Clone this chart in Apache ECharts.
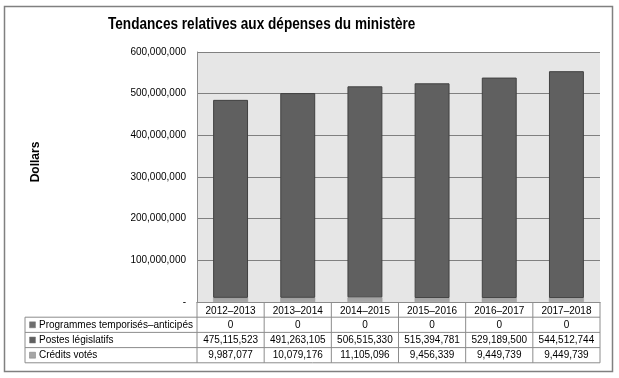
<!DOCTYPE html>
<html>
<head>
<meta charset="utf-8">
<script src="https://cdn.jsdelivr.net/npm/echarts@6/dist/echarts.min.js"></script>
<style>
  html, body { margin: 0; padding: 0; background: #fff; }
  #chart { width: 619px; height: 378px; }
</style>
</head>
<body>
<div id="chart"></div>
<script>
// Data
const years = ['2012–2013', '2013–2014', '2014–2015', '2015–2016', '2016–2017', '2017–2018'];
const programmes = [0, 0, 0, 0, 0, 0];
const postes = [475115523, 491263105, 506515330, 515394781, 529189500, 544512744];
const credits = [9987077, 10079176, 11105096, 9456339, 9449739, 9449739];

const FONT = '"Liberation Sans", Arial, sans-serif';
const DARK = '#606060';
const LIGHT = '#a6a6a6';
const LINE = '#8c8c8c';
const TITLE = 'Tendances relatives aux dépenses du ministère';

// table rows, top to bottom
const rows = [
  { name: 'Programmes temporisés–anticipés', data: programmes, color: '#6e6e6e' },
  { name: 'Postes législatifs', data: postes, color: DARK },
  { name: 'Crédits votés', data: credits, color: LIGHT }
];

const fmt = v => v === 0 ? '0' : v.toLocaleString('en-US');

const chart = echarts.init(document.getElementById('chart'), null, { renderer: 'canvas' });

const option = {
  animation: false,
  textStyle: { fontFamily: FONT },
  grid: {
    left: 197, right: 19, top: 52, bottom: 76,
    show: true, backgroundColor: '#e6e6e6', borderWidth: 0
  },
  xAxis: {
    type: 'category',
    data: years,
    axisTick: { show: false },
    axisLine: { show: true, lineStyle: { color: LINE, width: 1 } },
    axisLabel: { color: '#000', fontSize: 10, margin: 4, fontFamily: FONT }
  },
  yAxis: {
    type: 'value',
    min: 0, max: 600000000, interval: 100000000,
    axisLine: { show: true, lineStyle: { color: LINE, width: 1 } },
    axisTick: { show: false },
    splitLine: { lineStyle: { color: '#808080', width: 1 } },
    axisLabel: {
      color: '#000', fontSize: 10, margin: 11, fontFamily: FONT,
      formatter: v => v === 0 ? '-' : fmt(v)
    }
  },
  series: [
    {
      name: 'Crédits votés', type: 'bar', stack: 'total', data: credits,
      barWidth: '52%',
      itemStyle: { color: LIGHT, borderColor: '#999999', borderWidth: 0.5 }
    },
    {
      name: 'Postes législatifs', type: 'bar', stack: 'total', data: postes,
      itemStyle: { color: DARK, borderColor: '#404040', borderWidth: 1 }
    },
    {
      name: 'Programmes temporisés–anticipés', type: 'bar', stack: 'total', data: programmes,
      itemStyle: { color: '#6e6e6e' }
    }
  ]
};

chart.setOption(option);

// Data table under the plot, laid out from the category axis
function buildTable() {
  const x0 = chart.convertToPixel({ xAxisIndex: 0 }, 0);
  const x1 = chart.convertToPixel({ xAxisIndex: 0 }, 1);
  const band = x1 - x0;
  const plotL = x0 - band / 2;
  const plotR = plotL + band * years.length;
  const top = chart.convertToPixel({ yAxisIndex: 0 }, 0);
  const rowH = 15.2;
  const tableL = 25;
  const els = [];
  const line = (xa, ya, xb, yb) => els.push({
    type: 'line', silent: true,
    shape: { x1: xa, y1: ya, x2: xb, y2: yb },
    style: { stroke: LINE, lineWidth: 1 }
  });

  // title, slightly condensed like the original
  els.push({
    type: 'text', silent: true, x: 108, y: 25, scaleX: 0.85,
    style: { text: TITLE, font: 'bold 16px ' + FONT, fill: '#000', align: 'left', verticalAlign: 'middle' }
  });
  // y axis title
  els.push({
    type: 'text', silent: true, x: 36, y: 162, rotation: Math.PI / 2,
    style: { text: 'Dollars', font: 'bold 12px ' + FONT, fill: '#000', align: 'center', verticalAlign: 'middle' }
  });

  for (let i = 0; i <= years.length; i++) {
    const x = plotL + band * i;
    line(x, top, x, top + rowH * (rows.length + 1));
  }
  line(tableL, top + rowH, plotR, top + rowH);
  line(tableL, top + rowH, tableL, top + rowH * (rows.length + 1));
  rows.forEach((r, k) => {
    const yb = top + rowH * (k + 2);
    line(tableL, yb, plotR, yb);
    const yc = top + rowH * (k + 1.5);
    els.push({
      type: 'rect', silent: true,
      shape: { x: 29.5, y: yc - 3, width: 6, height: 6 },
      style: { fill: r.color, stroke: '#7a7a7a', lineWidth: 0.5 }
    });
    els.push({
      type: 'text', silent: true, x: 39, y: yc,
      style: { text: r.name, font: '10px ' + FONT, fill: '#000', verticalAlign: 'middle', align: 'left' }
    });
    r.data.forEach((v, i) => {
      els.push({
        type: 'text', silent: true,
        x: chart.convertToPixel({ xAxisIndex: 0 }, i), y: yc,
        style: { text: fmt(v), font: '10px ' + FONT, fill: '#000', verticalAlign: 'middle', align: 'center' }
      });
    });
  });

  // outer frame
  els.push({
    type: 'rect', silent: true,
    shape: { x: 4.5, y: 6.5, width: 608, height: 365 },
    style: { fill: 'none', stroke: '#808080', lineWidth: 1.5 }
  });

  chart.setOption({ graphic: els });
}

buildTable();
</script>
</body>
</html>
